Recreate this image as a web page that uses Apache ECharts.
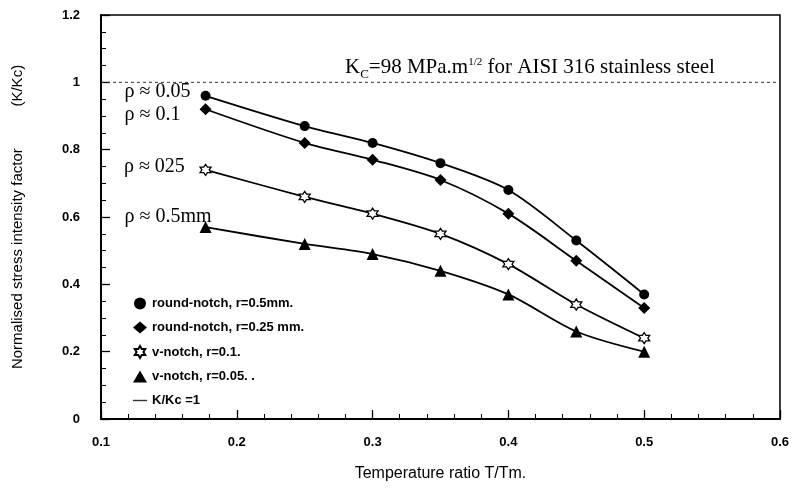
<!DOCTYPE html>
<html>
<head>
<meta charset="utf-8">
<script src="https://cdn.jsdelivr.net/npm/echarts@6/dist/echarts.min.js"></script>
<style>
html,body{margin:0;padding:0;background:#fff;}
#chart{width:792px;height:489px;}
</style>
</head>
<body>
<div id="chart"></div>
<script>
// ---- data ----
var tempRatio = [0.177, 0.25, 0.3, 0.35, 0.4, 0.45, 0.5];
var roundNotch05 = [0.96, 0.87, 0.82, 0.76, 0.68, 0.53, 0.37];
var roundNotch025 = [0.92, 0.82, 0.77, 0.71, 0.61, 0.47, 0.33];
var vNotch01 = [0.74, 0.66, 0.61, 0.55, 0.46, 0.34, 0.24];
var vNotch005 = [0.57, 0.52, 0.49, 0.44, 0.37, 0.26, 0.20];
var refLineX = [0.1, 0.6];
var refLineY = [1, 1];
var seriesNames = ['round-notch, r=0.5mm.', 'round-notch, r=0.25 mm.', 'v-notch, r=0.1.', 'v-notch, r=0.05. .', 'K/Kc =1'];
var rhoLabels = ['\u03c1 \u2248 0.05', '\u03c1 \u2248 0.1', '\u03c1 \u2248 025', '\u03c1 \u2248 0.5mm'];
var xTicks = [0.1, 0.2, 0.3, 0.4, 0.5, 0.6];
var yTicks = [0, 0.2, 0.4, 0.6, 0.8, 1, 1.2];

var starPath = 'path://M10,0 L12.89,5 L18.66,5 L15.77,10 L18.66,15 L12.89,15 L10,20 L7.11,15 L1.34,15 L4.23,10 L1.34,5 L7.11,5 Z';
var symbols = ['circle', 'diamond', starPath, 'triangle'];
var symSizes = [10, 12, 11, 12];
var hollow = [false, false, true, false];
var labelDy = [-4, 5, -2, -10];
var values = [roundNotch05, roundNotch025, vNotch01, vNotch005];

function pairs(xs, ys) { return xs.map(function (x, i) { return [x, ys[i]]; }); }

var series = values.map(function (vals, k) {
  var data = pairs(tempRatio, vals).map(function (p, i) {
    if (i !== 0) return p;
    return {
      value: p,
      label: {
        show: true,
        formatter: rhoLabels[k],
        position: [-(206 - symSizes[k] / 2 - 125), symSizes[k] / 2 + labelDy[k]],
        align: 'left',
        verticalAlign: 'middle',
        fontFamily: 'Liberation Serif',
        fontSize: 20,
        color: '#000'
      }
    };
  });
  return {
    name: seriesNames[k],
    type: 'line',
    smooth: 0.3,
    data: data,
    symbol: symbols[k],
    symbolSize: symSizes[k],
    showSymbol: true,
    lineStyle: { color: '#000', width: 1.8 },
    itemStyle: hollow[k] ? { color: '#fff', borderColor: '#000', borderWidth: 1.3 } : { color: '#000' },
    z: 3
  };
});
series.push({
  name: seriesNames[4],
  type: 'line',
  data: pairs(refLineX, refLineY),
  symbol: 'none',
  lineStyle: { color: '#333', width: 1, type: [3, 3] },
  itemStyle: { color: '#333' },
  z: 2
});

var chart = echarts.init(document.getElementById('chart'), null, { renderer: 'canvas' });
chart.setOption({
  animation: false,
  backgroundColor: '#fff',
  grid: { left: 101, right: 9, top: 15, bottom: 70, show: true, borderColor: '#000', borderWidth: 1.5, backgroundColor: 'transparent' },
  xAxis: {
    type: 'value', min: xTicks[0], max: xTicks[xTicks.length - 1], interval: 0.1,
    name: 'Temperature ratio T/Tm.', nameLocation: 'middle', nameGap: 47,
    nameTextStyle: { fontFamily: 'Liberation Sans', fontSize: 16, color: '#000' },
    axisLine: { lineStyle: { color: '#000', width: 2 } },
    axisTick: { inside: true, length: 9, lineStyle: { color: '#000', width: 1.3 } },
    minorTick: { show: true, splitNumber: 5, length: 5, lineStyle: { color: '#000', width: 1 } },
    splitLine: { show: false },
    axisLabel: { margin: 17, fontFamily: 'Liberation Sans', fontSize: 13, fontWeight: 'bold', color: '#000' }
  },
  yAxis: {
    type: 'value', min: yTicks[0], max: yTicks[yTicks.length - 1], interval: 0.2,
    name: 'Normalised stress intensity factor          (K/Kc)', nameLocation: 'middle', nameGap: 76,
    nameTextStyle: { fontFamily: 'Liberation Sans', fontSize: 15, color: '#000', letterSpacing: 0.7 },
    axisLine: { lineStyle: { color: '#000', width: 2 } },
    axisTick: { inside: true, length: 9, lineStyle: { color: '#000', width: 1.3 } },
    minorTick: { show: true, splitNumber: 4, length: 5, lineStyle: { color: '#000', width: 1 } },
    splitLine: { show: false },
    axisLabel: { margin: 21, fontFamily: 'Liberation Sans', fontSize: 13, fontWeight: 'bold', color: '#000' }
  },
  legend: {
    orient: 'vertical', left: 133, top: 297, padding: 0, itemGap: 11, itemWidth: 14, itemHeight: 12,
    textStyle: { fontFamily: 'Liberation Sans', fontSize: 13, fontWeight: 'bold', color: '#000', lineHeight: 12, letterSpacing: 0.5 },
    data: [
      { name: seriesNames[0], icon: 'circle' },
      { name: seriesNames[1], icon: 'diamond' },
      { name: seriesNames[2], icon: starPath },
      { name: seriesNames[3], icon: 'triangle' },
      { name: seriesNames[4], icon: 'path://M0,5 L10,5 L10,6 L0,6 Z' }
    ]
  },
  graphic: [{
    type: 'text', left: 345, top: 57,
    style: {
      text: '{k|K}{s|C}{k|=98 MPa.m}{p|1/2}{k| for AISI 316 stainless steel}',
      rich: {
        k: { fontFamily: 'Liberation Serif', fontSize: 21, color: '#000', verticalAlign: 'bottom' },
        s: { fontFamily: 'Liberation Serif', fontSize: 13, color: '#000', verticalAlign: 'bottom', padding: [0, 0, -3, 0] },
        p: { fontFamily: 'Liberation Serif', fontSize: 11, color: '#000', verticalAlign: 'top', padding: [0, 0, 10, 0] }
      }
    }
  }],
  series: series
});
</script>
</body>
</html>
